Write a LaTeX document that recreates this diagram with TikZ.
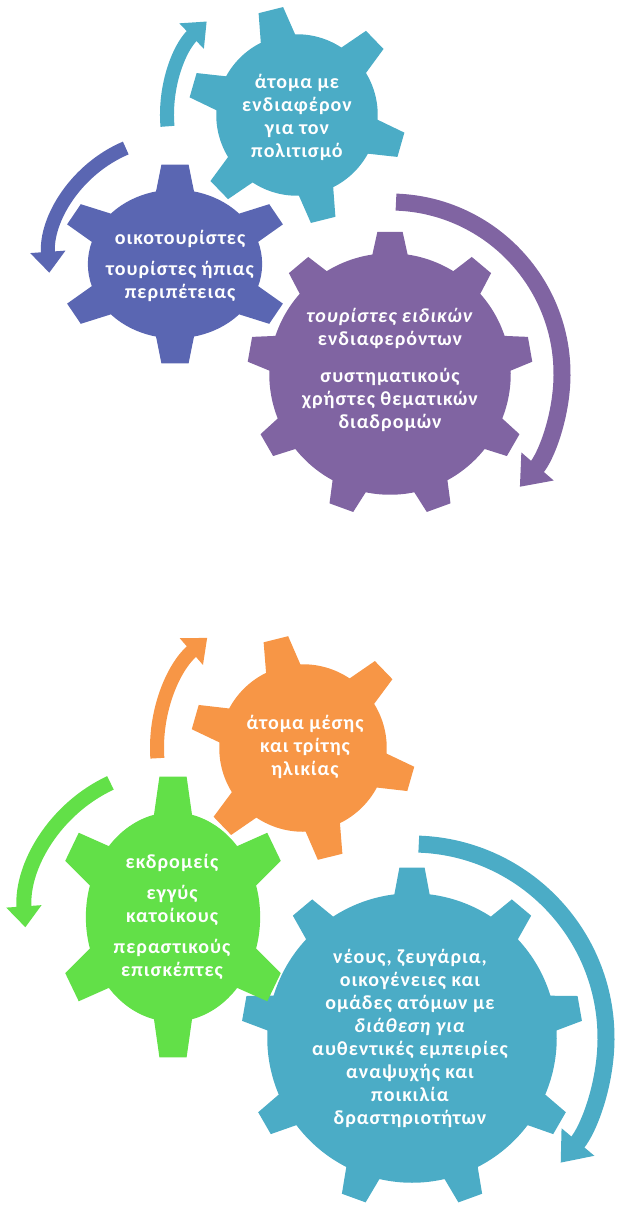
\documentclass[tikz,border=0pt]{standalone}
\usepackage{fontspec}
\setmainfont{Carlito}[LetterSpace=5]
\usepackage{tikz}
\usetikzlibrary{arrows.meta}
\definecolor{gearteal}{HTML}{4BACC6}
\definecolor{gearblue}{HTML}{5A66B2}
\definecolor{gearpurple}{HTML}{8064A2}
\definecolor{gearorange}{HTML}{F79646}
\definecolor{geargreen}{HTML}{62E048}

% #1 fill, #2 centre, #3 teeth, #4 first tooth angle, #5 tip radius, #6 root radius, #7 scope options
\newcommand{\gear}[7]{%
  \begin{scope}[shift={(#2)},#7]
    \pgfmathsetmacro\gstep{360/#3}
    \pgfmathsetmacro\gtip{asin(12/#5)}
    \pgfmathsetmacro\groot{asin(17/#6)}
    \fill[gearbody, #1] ({#4-\groot}:#6)
      \foreach \k in {1,...,#3} {
        -- ({#4+(\k-1)*\gstep-\gtip}:#5) -- ({#4+(\k-1)*\gstep+\gtip}:#5)
        -- ({#4+(\k-1)*\gstep+\groot}:#6)
        arc[start angle={#4+(\k-1)*\gstep+\groot}, end angle={#4+\k*\gstep-\groot}, radius=#6]
      } -- cycle;
  \end{scope}}

\begin{document}
\begin{tikzpicture}[
  x=1pt, y=1pt,
  gearbody/.style={draw=white, line width=1.5pt},
  gearlabel/.style={
    align=center, text=white, font=\fontsize{20}{23}\selectfont\bfseries
  },
  cyc/.style={line width=14pt, -{Triangle[width=34pt, length=21pt]}},
  bigcyc/.style={line width=17pt, -{Triangle[width=41pt, length=27pt]}}
]
\useasboundingbox (0,0) rectangle (618,-1206);

\coordinate (tealc) at (297,-115);
\coordinate (bluec) at (175,-264);
\coordinate (purplec) at (390,-374);
\coordinate (orangec) at (303,-748);
\coordinate (greenc) at (173,-917);
\coordinate (bigc) at (412,-1038);

% top group
\gear{gearpurple}{purplec}{9}{90}{142}{120}{}
\gear{gearblue}{bluec}{6}{90}{108}{80}{xscale=1.08, yscale=0.92}
\gear{gearteal}{tealc}{6}{44}{108}{80}{}

\node[gearlabel] (culture) at (297,-117)
  {άτομα με\\ενδιαφέρον\\για τον\\πολιτισμό};
\node[gearlabel] (eco) at (180,-266)
  {οικοτουρίστες\\[8pt]τουρίστες ήπιας\\περιπέτειας};
\node[gearlabel] (special) at (390,-370)
  {\textit{τουρίστες ειδικών}\\ενδιαφερόντων\\[14pt]συστηματικούς\\χρήστες θεματικών\\διαδρομών};

\draw[cyc, gearteal] ([shift={(185:130)}]tealc)
  arc[start angle=185, end angle=134, radius=130];
\draw[cyc, gearblue] ([shift={(113:126)}]bluec)
  arc[start angle=113, end angle=184, radius=126];
\draw[bigcyc, gearpurple] ([shift={(88:172)}]purplec)
  arc[start angle=88, end angle=-41, radius=172];

% bottom group
\gear{gearteal}{bigc}{9}{90}{170}{144}{}
\gear{geargreen}{greenc}{6}{90}{108}{80}{xscale=1.08, yscale=1.3}
\gear{gearorange}{orangec}{6}{44}{112}{83}{}

\node[gearlabel] (senior) at (305,-747)
  {άτομα μέσης\\και τρίτης\\ηλικίας};
\node[gearlabel] (trippers) at (172,-917)
  {εκδρομείς\\[8pt]εγγύς\\κατοίκους\\[8pt]περαστικούς\\επισκέπτες};
\node[gearlabel] (families) at (410,-1038)
  {νέους, ζευγάρια,\\οικογένειες και\\ομάδες ατόμων με\\\textit{διάθεση για}\\αυθεντικές εμπειρίες\\αναψυχής και\\ποικιλία\\δραστηριοτήτων};

\draw[cyc, gearorange] ([shift={(184:146)}]orangec)
  arc[start angle=184, end angle=131, radius=146];
\draw[cyc, geargreen, line width=15pt] ([shift={(115:148)}]greenc)
  arc[start angle=115, end angle=184, radius=148];
\draw[bigcyc, gearteal] ([shift={(88:194)}]bigc)
  arc[start angle=88, end angle=-40, radius=194];
\end{tikzpicture}
\end{document}
